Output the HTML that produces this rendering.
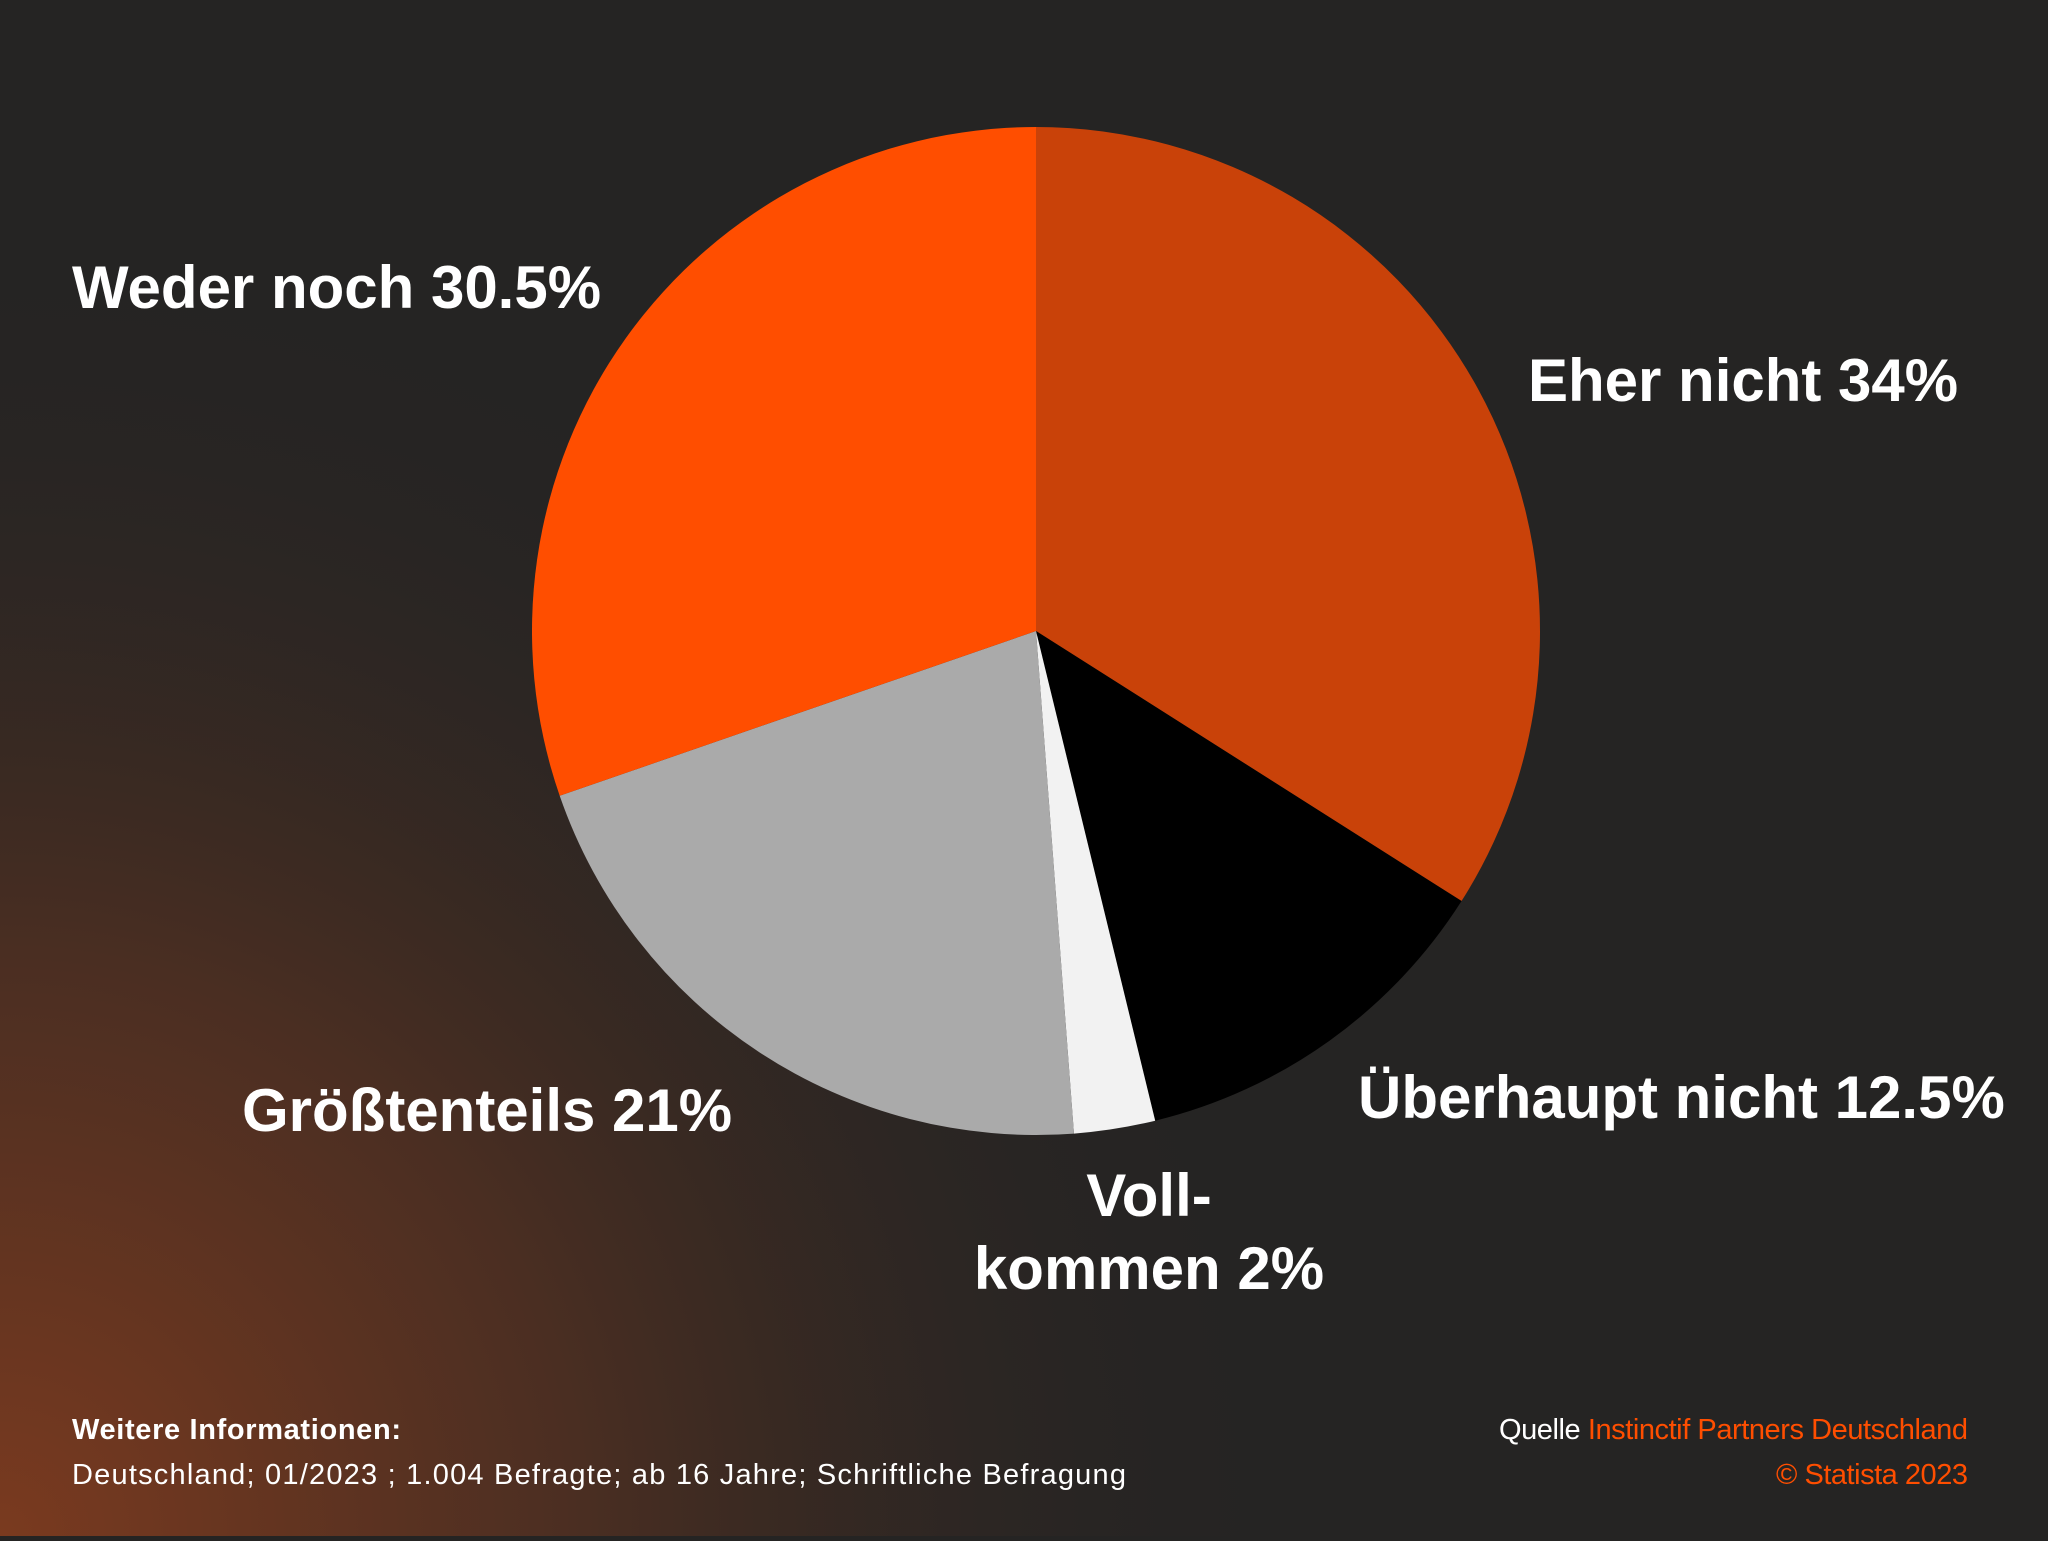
<!DOCTYPE html>
<html><head><meta charset="utf-8">
<style>
html,body{margin:0;padding:0;}
body{width:2048px;height:1536px;overflow:hidden;background:#252423;font-family:"Liberation Sans",sans-serif;}
</style></head>
<body>
<svg width="2048" height="1536" viewBox="0 0 2048 1536" xmlns="http://www.w3.org/2000/svg">
<defs>
<radialGradient id="bg" cx="0" cy="1536" r="1300" gradientUnits="userSpaceOnUse">
<stop offset="0" stop-color="#7a3a1f"/>
<stop offset="0.45" stop-color="#4a2e22"/>
<stop offset="1" stop-color="#252423" stop-opacity="0"/>
</radialGradient>
</defs>
<rect width="2048" height="1536" fill="#252423"/>
<rect width="2048" height="1536" fill="url(#bg)"/>
<g id="slices"></g>
<g font-family="Liberation Sans, sans-serif" font-weight="bold" fill="#fff" font-size="60">
<text x="72" y="308">Weder noch 30.5%</text>
<text x="1528" y="401">Eher nicht 34%</text>
<text x="1358" y="1118">Überhaupt nicht 12.5%</text>
<text x="1149" text-anchor="middle"><tspan x="1149" y="1216">Voll-</tspan><tspan x="1149" y="1289">kommen 2%</tspan></text>
<text x="242" y="1131">Größtenteils 21%</text>
</g>
<g font-family="Liberation Sans, sans-serif" font-size="29" fill="#fff">
<text x="72" y="1439" font-weight="bold" textLength="329" lengthAdjust="spacing">Weitere Informationen:</text>
<text x="72" y="1484" textLength="1054" lengthAdjust="spacing">Deutschland; 01/2023 ; 1.004 Befragte; ab 16 Jahre; Schriftliche Befragung</text>
<text x="1499" y="1439" textLength="469" lengthAdjust="spacing">Quelle <tspan fill="#ff4e00">Instinctif Partners Deutschland</tspan></text>
<text x="1776" y="1484" fill="#ff4e00" textLength="192" lengthAdjust="spacing">© Statista 2023</text>
</g>
</svg>
<script>
const categories=["Eher nicht","Überhaupt nicht","Vollkommen","Größtenteils","Weder noch"];
const values=[34,12.2,2.6,20.9,30.3];
const colors=["#c94209","#000000","#f2f2f2","#aaaaaa","#ff4e00"];
const cx=1036,cy=631,r=504;
const g=document.getElementById('slices');
const total=values.reduce((a,b)=>a+b,0);
let acc=0;
values.forEach((v,i)=>{
  const a0=acc/total*2*Math.PI; acc+=v; const a1=acc/total*2*Math.PI;
  const x0=cx+r*Math.sin(a0),y0=cy-r*Math.cos(a0),x1=cx+r*Math.sin(a1),y1=cy-r*Math.cos(a1);
  const large=(a1-a0)>Math.PI?1:0;
  const p=document.createElementNS('http://www.w3.org/2000/svg','path');
  p.setAttribute('d',`M${cx},${cy}L${x0},${y0}A${r},${r} 0 ${large} 1 ${x1},${y1}Z`);
  p.setAttribute('fill',colors[i]);
  
  
  g.appendChild(p);
});
</script>
</body></html>
